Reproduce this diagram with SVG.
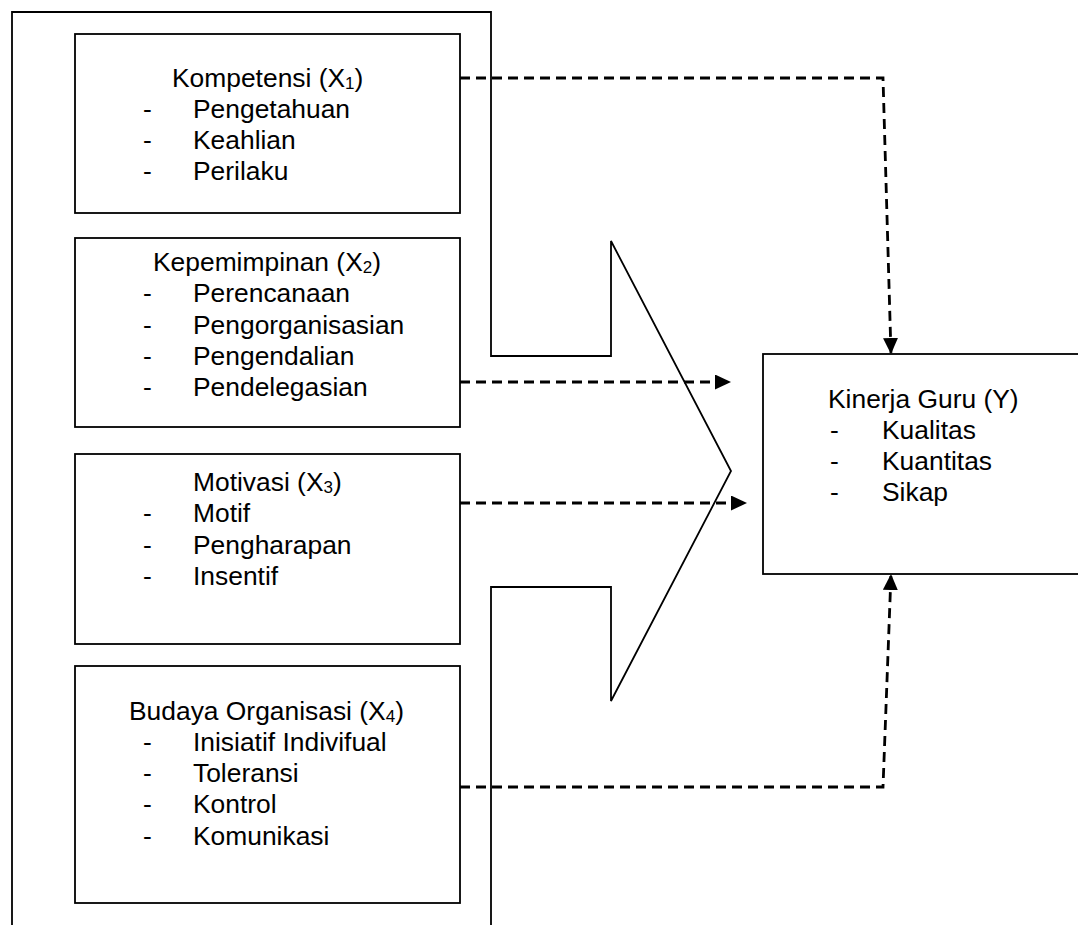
<svg xmlns="http://www.w3.org/2000/svg" width="1078" height="925" viewBox="0 0 1078 925">
<style>
.box{fill:#fff;stroke:#000;stroke-width:1.8}
.outline{fill:none;stroke:#000;stroke-width:1.8;stroke-linejoin:miter}
.t{font-family:"Liberation Sans",Arial,sans-serif;font-size:26.4px;fill:#000}
.sub{font-size:17px}
.dash{fill:none;stroke:#000;stroke-width:2.8;stroke-dasharray:10 6}
</style>
<defs>
<marker id="ah" markerUnits="userSpaceOnUse" markerWidth="17" markerHeight="15" refX="16" refY="7.5" orient="auto">
<path d="M0,0 L16,7.5 L0,15 z" fill="#000"/>
</marker>
</defs>
<rect width="1078" height="925" fill="#fff"/>
<g id="big-arrow">
<path class="outline" d="M12,930 V12 H491 V356 H611 V241 L731,471 L611,701 V587 H491 V930"/>
</g>
<g id="node-x1">
<rect class="box" x="75" y="34" width="385" height="179"/>
<text class="t" x="172" y="86.5">Kompetensi (X<tspan class="sub" dy="2">1</tspan><tspan dy="-2">)</tspan></text>
<text class="t" x="143" y="118">-</text><text class="t" x="193" y="118">Pengetahuan</text>
<text class="t" x="143" y="149">-</text><text class="t" x="193" y="149">Keahlian</text>
<text class="t" x="143" y="180">-</text><text class="t" x="193" y="180">Perilaku</text>
</g>
<g id="node-x2">
<rect class="box" x="75" y="238" width="385" height="189"/>
<text class="t" x="153" y="271">Kepemimpinan (X<tspan class="sub" dy="2">2</tspan><tspan dy="-2">)</tspan></text>
<text class="t" x="143" y="302.3">-</text><text class="t" x="193" y="302.3">Perencanaan</text>
<text class="t" x="143" y="333.6">-</text><text class="t" x="193" y="333.6">Pengorganisasian</text>
<text class="t" x="143" y="364.9">-</text><text class="t" x="193" y="364.9">Pengendalian</text>
<text class="t" x="143" y="396.2">-</text><text class="t" x="193" y="396.2">Pendelegasian</text>
</g>
<g id="node-x3">
<rect class="box" x="75" y="454" width="385" height="190"/>
<text class="t" x="193" y="491">Motivasi (X<tspan class="sub" dy="2">3</tspan><tspan dy="-2">)</tspan></text>
<text class="t" x="143" y="522.3">-</text><text class="t" x="193" y="522.3">Motif</text>
<text class="t" x="143" y="553.6">-</text><text class="t" x="193" y="553.6">Pengharapan</text>
<text class="t" x="143" y="584.9">-</text><text class="t" x="193" y="584.9">Insentif</text>
</g>
<g id="node-x4">
<rect class="box" x="75" y="666" width="385" height="237"/>
<text class="t" x="129" y="719.5">Budaya Organisasi (X<tspan class="sub" dy="2">4</tspan><tspan dy="-2">)</tspan></text>
<text class="t" x="143" y="750.8">-</text><text class="t" x="193" y="750.8">Inisiatif Indivifual</text>
<text class="t" x="143" y="782.1">-</text><text class="t" x="193" y="782.1">Toleransi</text>
<text class="t" x="143" y="813.4">-</text><text class="t" x="193" y="813.4">Kontrol</text>
<text class="t" x="143" y="844.7">-</text><text class="t" x="193" y="844.7">Komunikasi</text>
</g>
<g id="node-y">
<rect class="box" x="763" y="354" width="330" height="220"/>
<text class="t" x="828" y="407.5">Kinerja Guru (Y)</text>
<text class="t" x="830" y="438.5">-</text><text class="t" x="882" y="438.5">Kualitas</text>
<text class="t" x="830" y="469.5">-</text><text class="t" x="882" y="469.5">Kuantitas</text>
<text class="t" x="830" y="500.5">-</text><text class="t" x="882" y="500.5">Sikap</text>
</g>
<g id="connectors">
<path class="dash" d="M460,78 H883 L891,354" marker-end="url(#ah)"/>
<path class="dash" d="M460,382 H731" marker-end="url(#ah)"/>
<path class="dash" d="M460,503 H747" marker-end="url(#ah)"/>
<path class="dash" d="M460,787 H883 L891,574" marker-end="url(#ah)"/>
</g>
</svg>
